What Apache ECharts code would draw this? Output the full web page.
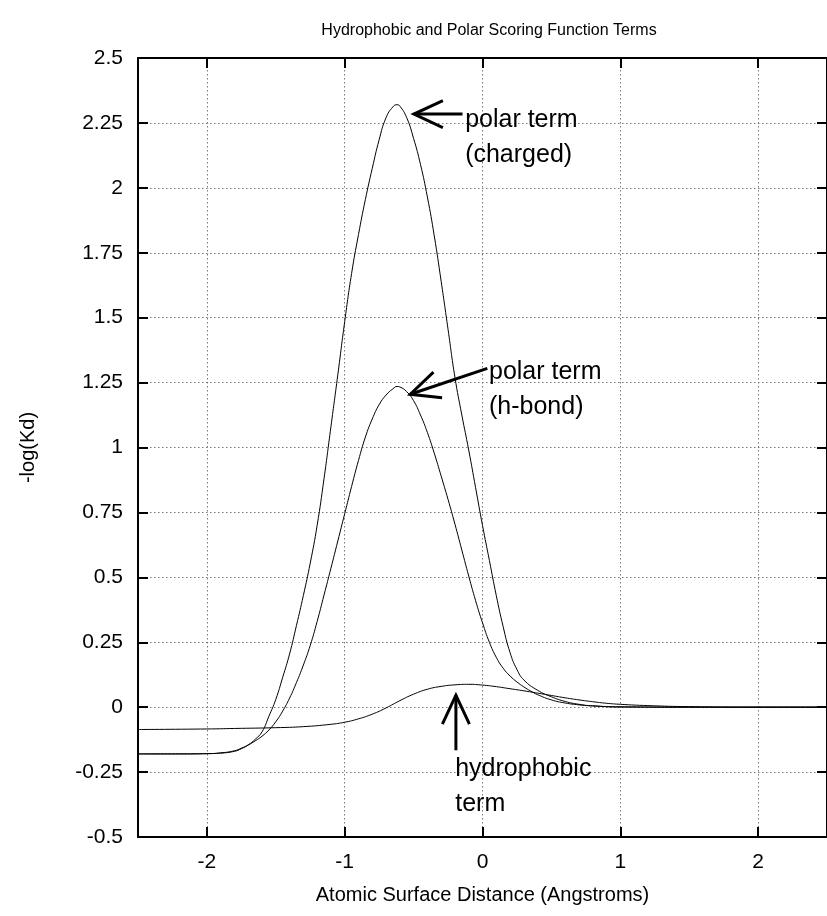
<!DOCTYPE html>
<html><head><meta charset="utf-8">
<script src="https://cdn.jsdelivr.net/npm/echarts@6/dist/echarts.min.js"></script>
<style>html,body{margin:0;padding:0;background:#fff}#c{width:827px;height:916px}</style>
</head><body><div id="c"></div>
<script>
// ---- data ----
const xTickValues = [-2, -1, 0, 1, 2];

const chargedX = [-2.5,-2.2,-2.0,-1.9,-1.8,-1.75,-1.7,-1.65,-1.6,-1.55,-1.5,-1.45,-1.4,-1.35,-1.3,-1.25,-1.2,-1.15,-1.1,-1.05,-1.0,-0.95,-0.9,-0.85,-0.8,-0.75,-0.7,-0.65,-0.62,-0.6,-0.55,-0.5,-0.45,-0.4,-0.35,-0.3,-0.25,-0.2,-0.15,-0.1,-0.05,0,0.05,0.1,0.15,0.2,0.25,0.3,0.4,0.5,0.6,0.7,0.8,1.0,1.5,2.0,2.5];
const chargedY = [-0.180,-0.180,-0.179,-0.176,-0.168,-0.158,-0.145,-0.124,-0.095,-0.035,0.030,0.115,0.205,0.315,0.430,0.555,0.700,0.880,1.080,1.280,1.485,1.670,1.820,1.955,2.075,2.185,2.270,2.312,2.320,2.315,2.270,2.190,2.090,1.965,1.815,1.640,1.455,1.270,1.125,0.990,0.845,0.700,0.565,0.430,0.310,0.210,0.145,0.105,0.065,0.040,0.022,0.011,0.005,0.001,0,0,0];

const hbondX = [-2.5,-2.2,-2.0,-1.9,-1.8,-1.75,-1.7,-1.65,-1.6,-1.55,-1.5,-1.45,-1.4,-1.35,-1.3,-1.25,-1.2,-1.15,-1.1,-1.05,-1.0,-0.95,-0.9,-0.85,-0.8,-0.75,-0.7,-0.65,-0.62,-0.6,-0.55,-0.5,-0.45,-0.4,-0.35,-0.3,-0.25,-0.2,-0.15,-0.1,-0.05,0,0.05,0.1,0.15,0.2,0.25,0.3,0.35,0.4,0.5,0.6,0.7,0.8,1.0,1.5,2.0,2.5];
const hbondY = [-0.180,-0.180,-0.179,-0.177,-0.170,-0.160,-0.146,-0.130,-0.112,-0.088,-0.056,-0.015,0.035,0.095,0.162,0.238,0.330,0.432,0.535,0.640,0.745,0.850,0.950,1.040,1.110,1.165,1.202,1.226,1.235,1.233,1.215,1.180,1.125,1.058,0.978,0.890,0.800,0.705,0.605,0.505,0.410,0.325,0.250,0.192,0.150,0.120,0.097,0.078,0.062,0.048,0.028,0.016,0.009,0.005,0.001,0,0,0];

const hydroX = [-2.5,-2.0,-1.8,-1.5,-1.3,-1.1,-1.0,-0.9,-0.8,-0.7,-0.6,-0.5,-0.4,-0.3,-0.2,-0.1,0,0.1,0.2,0.3,0.4,0.5,0.6,0.7,0.8,0.9,1.0,1.2,1.5,2.0,2.5];
const hydroY = [-0.086,-0.084,-0.082,-0.079,-0.075,-0.066,-0.058,-0.045,-0.027,-0.003,0.025,0.050,0.069,0.080,0.086,0.088,0.085,0.079,0.071,0.063,0.054,0.045,0.036,0.028,0.021,0.015,0.011,0.006,0.002,0,0];

// annotations (data coordinates)
const annotations = [
  {tip: [-0.498, 2.284], tail: [-0.145, 2.284], lines: ['polar term', '(charged)'], at: [-0.126, 2.262]},
  {tip: [-0.524, 1.205], tail: [0.035, 1.305], lines: ['polar term', '(h-bond)'], at: [0.047, 1.292]},
  {tip: [-0.193, 0.046], tail: [-0.193, -0.166], lines: ['hydrophobic', 'term'], at: [-0.198, -0.237]}
];

const zip = (xs, ys) => xs.map((x, i) => [x, ys[i]]);

const FONT = 'Liberation Sans, Arial, sans-serif';
const chart = echarts.init(document.getElementById('c'), null, {renderer: 'canvas'});

const axisLineStyle = {show: true, onZero: false, lineStyle: {color: '#000', width: 2}};
const tickStyle = {show: true, inside: true, length: 10, lineStyle: {color: '#000', width: 2}};
const gridLine = {show: true, lineStyle: {color: '#777', width: 1, type: [1.5, 2.5]}};

const lineSeries = (name, data) => ({
  name, type: 'line', data, showSymbol: false, smooth: 0.5,
  lineStyle: {color: '#000', width: 1}, silent: true, animation: false, z: 5
});

chart.setOption({
  animation: false,
  backgroundColor: '#fff',
  title: {
    text: 'Hydrophobic and Polar Scoring Function Terms',
    left: 484, top: 18, textAlign: 'center',
    textStyle: {fontFamily: FONT, fontSize: 16, fontWeight: 'normal', color: '#000'}
  },
  grid: {left: 138, top: 58, width: 693, height: 779, containLabel: false},
  xAxis: [{
    type: 'value', min: -2.5, max: 2.5, position: 'bottom',
    axisLine: axisLineStyle,
    axisTick: Object.assign({customValues: xTickValues}, tickStyle),
    axisLabel: {customValues: xTickValues, fontFamily: FONT, fontSize: 21, color: '#000', margin: 15},
    splitLine: gridLine,
    name: 'Atomic Surface Distance (Angstroms)', nameLocation: 'middle', nameGap: 48,
    nameTextStyle: {fontFamily: FONT, fontSize: 20, color: '#000'}
  }, {
    type: 'value', min: -2.5, max: 2.5, position: 'top',
    axisLine: axisLineStyle,
    axisTick: Object.assign({customValues: xTickValues}, tickStyle),
    axisLabel: {show: false}, splitLine: {show: false}
  }],
  yAxis: [{
    type: 'value', min: -0.5, max: 2.5, interval: 0.25, position: 'left',
    axisLine: axisLineStyle, axisTick: tickStyle,
    axisLabel: {fontFamily: FONT, fontSize: 21, color: '#000', margin: 15},
    splitLine: gridLine,
    name: '-log(Kd)', nameLocation: 'middle', nameGap: 100, nameRotate: 90,
    nameTextStyle: {fontFamily: FONT, fontSize: 20, color: '#000'}
  }, {
    type: 'value', min: -0.5, max: 2.5, interval: 0.25, position: 'right',
    axisLine: axisLineStyle, axisTick: tickStyle,
    axisLabel: {show: false}, splitLine: {show: false}
  }],
  series: [
    lineSeries('polar term (charged)', zip(chargedX, chargedY)),
    lineSeries('polar term (h-bond)', zip(hbondX, hbondY)),
    lineSeries('hydrophobic term', zip(hydroX, hydroY))
  ]
});

// arrows and labels
const px = p => chart.convertToPixel({xAxisIndex: 0, yAxisIndex: 0}, p);
const graphics = [];
const HEAD = 32, HALF = 25 * Math.PI / 180;
annotations.forEach(a => {
  const t = px(a.tip), s = px(a.tail);
  const ang = Math.atan2(s[1] - t[1], s[0] - t[0]);
  const h1 = [t[0] + HEAD * Math.cos(ang + HALF), t[1] + HEAD * Math.sin(ang + HALF)];
  const h2 = [t[0] + HEAD * Math.cos(ang - HALF), t[1] + HEAD * Math.sin(ang - HALF)];
  const st = {stroke: '#000', lineWidth: 3, fill: null};
  graphics.push({type: 'polyline', shape: {points: [s, t]}, style: st, z: 10, silent: true});
  graphics.push({type: 'polyline', shape: {points: [h1, t, h2]}, style: st, z: 10, silent: true});
  const p = px(a.at);
  a.lines.forEach((ln, i) => {
    graphics.push({type: 'text', x: p[0], y: p[1] + i * 35, z: 10, silent: true,
      style: {text: ln, fontFamily: FONT, fontSize: 25, fill: '#000', align: 'left', verticalAlign: 'middle'}});
  });
});
chart.setOption({graphic: graphics});
</script>
</body></html>
